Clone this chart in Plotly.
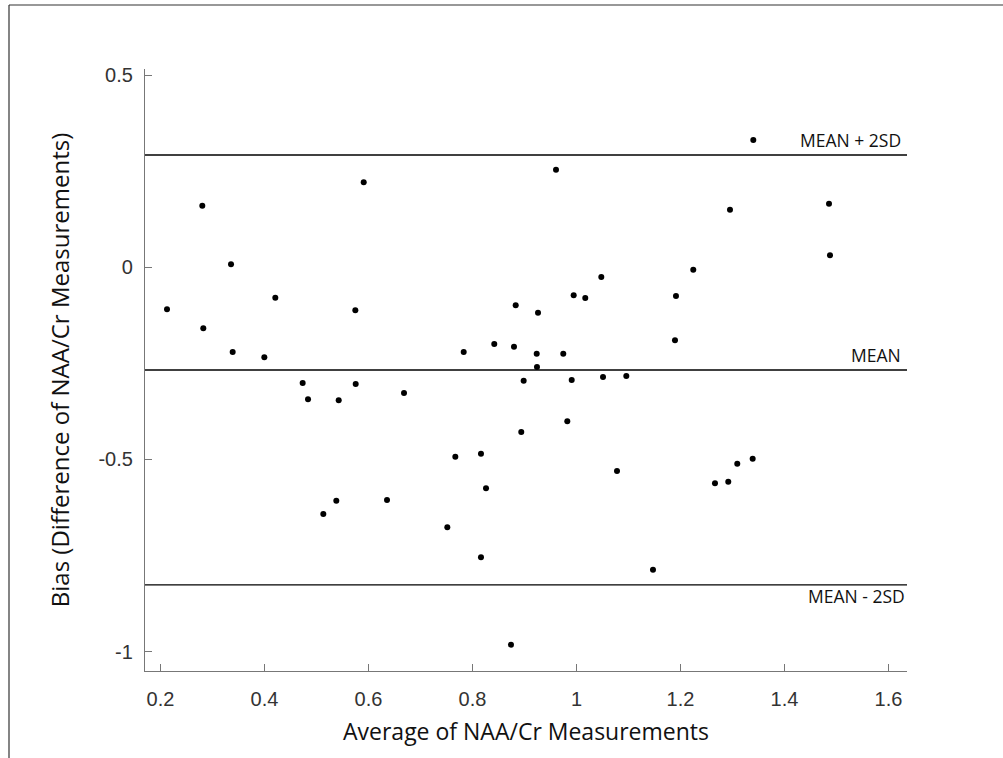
import plotly.graph_objects as go

# Data (average, difference)
avg = [0.2804, 0.5908, 0.3356, 0.2125, 0.4208, 0.5747, 0.2823, 0.3388, 0.3997, 0.7831,
       0.4734, 0.4837, 0.5427, 0.5754, 0.6683, 0.9606, 1.2952, 1.4856, 1.4875, 1.2246,
       1.0477, 0.9946, 1.0169, 1.1913, 0.8831, 0.9260, 0.8419, 0.8798, 1.1894, 0.9235,
       0.9746, 0.9240, 0.8984, 0.9908, 1.0510, 1.0958, 0.9823, 0.8938, 1.3400, 0.7670,
       0.8163, 0.8260, 0.5381, 0.5131, 0.6356, 0.7516, 0.8163, 0.8740, 1.0779, 1.1471,
       1.2663, 1.2919, 1.3092, 1.3388]
diff = [0.160, 0.2208, 0.0075, -0.1096, -0.0793, -0.1122, -0.159, -0.2206, -0.2345, -0.2206,
        -0.3013, -0.3437, -0.3463, -0.3039, -0.3273, 0.2537, 0.1497, 0.1652, 0.0309, -0.0065,
        -0.0255, -0.0731, -0.0801, -0.0749, -0.0992, -0.1183, -0.1998, -0.2068, -0.1903, -0.225,
        -0.225, -0.2596, -0.2952, -0.2934, -0.2856, -0.283, -0.4009, -0.4287, 0.3309, -0.493,
        -0.4852, -0.5752, -0.6074, -0.642, -0.6056, -0.6767, -0.7547, -0.982, -0.5302, -0.787,
        -0.5623, -0.558, -0.5112, -0.4982]

mean_bias = -0.2674
upper_loa = 0.2919
lower_loa = -0.8267

x_ticks = [0.2, 0.4, 0.6, 0.8, 1.0, 1.2, 1.4, 1.6]
x_tick_text = ["0.2", "0.4", "0.6", "0.8", "1", "1.2", "1.4", "1.6"]
y_ticks = [-1, -0.5, 0, 0.5]
y_tick_text = ["-1", "-0.5", "0", "0.5"]

x_range = [0.1702, 1.6356]
y_range = [-1.0505, 0.5156]

fig = go.Figure()

for val in [upper_loa, mean_bias, lower_loa]:
    fig.add_trace(go.Scatter(x=x_range, y=[val, val], mode="lines",
                             line=dict(color="black", width=1.3),
                             hoverinfo="skip", showlegend=False))

fig.add_trace(go.Scatter(x=avg, y=diff, mode="markers",
                         marker=dict(color="black", size=6),
                         showlegend=False))

label_font = dict(family="Open Sans", size=17.5, color="#111")
fig.add_annotation(x=1, xref="paper", y=upper_loa, yref="y", text="MEAN + 2SD",
                   showarrow=False, xanchor="right", yanchor="bottom", xshift=-4, yshift=1,
                   font=label_font)
fig.add_annotation(x=1, xref="paper", y=mean_bias, yref="y", text="MEAN",
                   showarrow=False, xanchor="right", yanchor="bottom", xshift=-4, yshift=1,
                   font=label_font)
fig.add_annotation(x=1, xref="paper", y=lower_loa, yref="y", text="MEAN - 2SD",
                   showarrow=False, xanchor="right", yanchor="top", xshift=0, yshift=3,
                   font=label_font)

L, R, T, B = 145, 96, 69, 87
W, H = 1003, 758
pw, ph = W - L - R, H - T - B

def px_x(p):
    return (p - L) / pw

def px_y(p):
    return (H - B - p) / ph

# outer frame (left and top edges visible)
fig.add_shape(type="line", xref="paper", yref="paper",
              x0=px_x(9), x1=px_x(9), y0=px_y(5), y1=px_y(760),
              line=dict(color="#333", width=1.2))
fig.add_shape(type="line", xref="paper", yref="paper",
              x0=px_x(9), x1=px_x(1005), y0=px_y(5), y1=px_y(5),
              line=dict(color="#333", width=1.2))

axis_common = dict(showgrid=False, zeroline=False, showline=True, linecolor="#777",
                   linewidth=1.2, ticks="inside", ticklen=7, tickcolor="#777",
                   tickwidth=1, tickfont=dict(family="Liberation Sans", size=20, color="#333"))

fig.update_xaxes(range=x_range, tickvals=x_ticks, ticktext=x_tick_text,
                 ticklabelstandoff=10,
                 title=dict(text="Average of NAA/Cr Measurements",
                            font=dict(family="Open Sans", size=23, color="#111"), standoff=14),
                 **axis_common)
fig.update_yaxes(range=y_range, tickvals=y_ticks, ticktext=y_tick_text,
                 ticklabelstandoff=7,
                 title=dict(text="Bias (Difference of NAA/Cr Measurements)",
                            font=dict(family="Open Sans", size=24, color="#111"), standoff=22),
                 **axis_common)

fig.update_layout(width=W, height=H, margin=dict(l=L, r=R, t=T, b=B, autoexpand=False),
                  plot_bgcolor="white", paper_bgcolor="white")

fig.write_html("out.html", config={"displayModeBar": False},
               post_script="document.body.style.margin='0';document.body.style.overflow='hidden';")
